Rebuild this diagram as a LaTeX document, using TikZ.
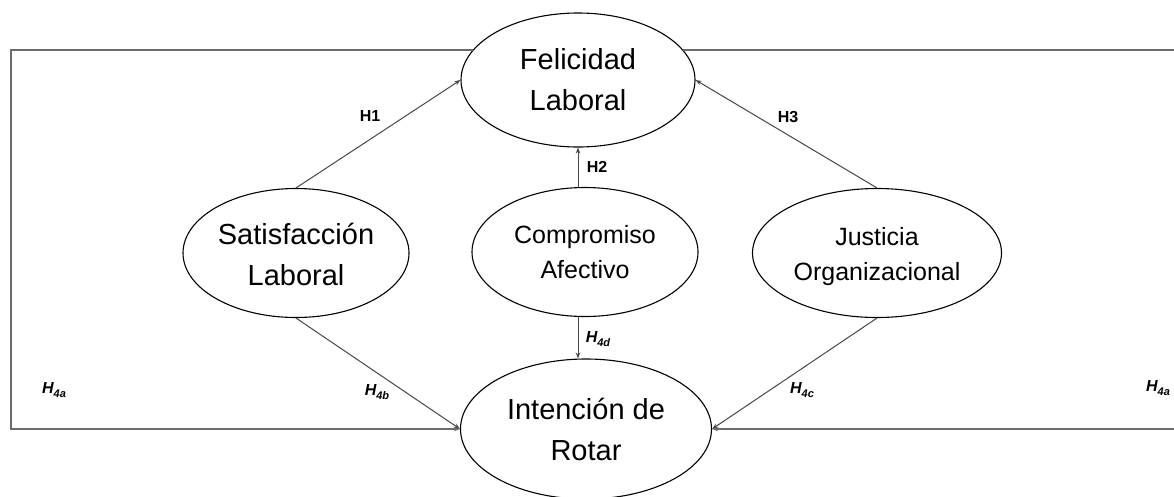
\documentclass[tikz,border=0pt]{standalone}
\usepackage{fontspec}
\setmainfont{Liberation Sans}
\usetikzlibrary{shapes.geometric,arrows.meta}
\newcommand{\hyfour}[1]{H\raisebox{-0.22em}{\fontsize{11}{13}\selectfont #1}}
\newcommand{\lowtext}[2]{\raisebox{-#1}[\height][\depth]{\begin{tabular}{@{}c@{}}#2\end{tabular}}}
\begin{document}
\begin{tikzpicture}[x=1pt,y=-1pt,
  var/.style={ellipse,draw=black,line width=1.1pt,inner sep=0pt},
  big/.style={font=\fontsize{29}{40.5}\selectfont},
  mid/.style={font=\fontsize{25}{34.5}\selectfont},
  conn/.style={draw=black!72,line width=1pt,-{Stealth[length=6pt,width=4.5pt]}},
  frame/.style={draw=black!58,line width=1.6pt,-{Stealth[length=6pt,width=4.5pt]}},
  hyp/.style={font=\bfseries\fontsize{16}{19}\selectfont,inner sep=0pt},
  hypi/.style={font=\bfseries\itshape\fontsize{16}{19}\selectfont,inner sep=0pt}]
\useasboundingbox (0,0) rectangle (1174,496);
\clip (0,0) rectangle (1174,496);
\fill[white] (0,0) rectangle (1174,496);
% constructs
\node[var,big,minimum width=234pt,minimum height=134pt] (F) at (578,80) {\lowtext{2pt}{Felicidad\\Laboral}};
\node[var,big,minimum width=226pt,minimum height=129pt] (S) at (296,253) {\lowtext{4pt}{Satisfacción\\Laboral}};
\node[var,mid,minimum width=226pt,minimum height=129pt] (C) at (585,252) {\lowtext{2pt}{Compromiso\\Afectivo}};
\node[var,mid,minimum width=249pt,minimum height=129pt] (J) at (877,253) {\lowtext{3pt}{Justicia\\Organizacional}};
\node[var,big,minimum width=251pt,minimum height=140pt] (I) at (586,429) {\lowtext{3pt}{Intención de\\Rotar}};
% frame coordinates
\coordinate (BL) at (11,429);
\coordinate (BR) at (1200,429);
% connectors
\draw[conn] (S.north) -- (F.west);
\draw[conn] (J.north) -- (F.east);
\draw[conn] (C.north -| F.south) -- (F.south);
\draw[conn] (C.south -| F.south) -- (I.north -| F.south);
\draw[conn] (S.south) -- (I.west);
\draw[conn] (J.south) -- (I.east);
\draw[frame] (F.164) -| (BL) -- (I.west);
\draw[frame] (F.16) -| (BR) -- (I.east);
% labels
\node[hyp] (h1) at (370,116) {H1};
\node[hyp] (h2) at (597,167) {H2};
\node[hyp] (h3) at (788,117) {H3};
\node[hypi] (h4d) at (598,339) {\hyfour{4d}};
\node[hypi] (h4b) at (377,392) {\hyfour{4b}};
\node[hypi] (h4c) at (802,390) {\hyfour{4c}};
\node[hypi] (h4al) at (54,390) {\hyfour{4a}};
\node[hypi] (h4ar) at (1158,388) {\hyfour{4a}};
\end{tikzpicture}
\end{document}
